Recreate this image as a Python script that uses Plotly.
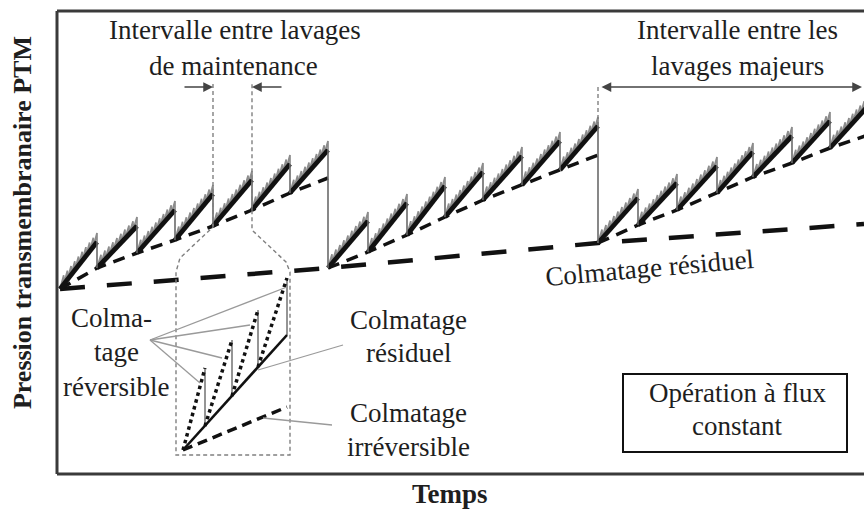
import plotly.graph_objects as go

# ---------------- data (time units, PTM units) ----------------
# major cycle 1 : maintenance-cleaning times, base (residual) PTM, peak PTM
c1_t = [3, 40, 80, 118, 156, 195, 233, 271]
c1_base = [185, 206, 221, 234, 248, 264, 281, 296]
c1_peak = [232, 248, 264, 280, 294, 310, 324]
# major cycle 2
c2_t = [271, 311, 350, 388, 426, 465, 503, 541]
c2_base = [206, 222, 239, 257, 274, 289, 304, 319]
c2_peak = [253, 271, 288, 302, 318, 333, 348]
# major cycle 3
c3_t = [541, 581, 620, 660, 696, 735, 773, 811]
c3_base = [231, 249, 264, 281, 297, 311, 326, 339]
c3_peak = [276, 291, 308, 322, 338, 353, 368]
# irreversible fouling (after major cleanings)
irr_t = [3, 271, 541, 807]
irr_ptm = [185, 206, 231, 250]

# zoomed inset
inset_t = [126, 148, 175, 201, 230]
inset_peak = [106, 134, 164, 196]
inset_resid = [24, 48, 78, 107, 139]
inset_irr_t = [126, 230]
inset_irr = [24, 67]

BACKWASH_TEETH = 10
TOOTH_H = 9

cycles = [(c1_t, c1_base, c1_peak), (c2_t, c2_base, c2_peak), (c3_t, c3_base, c3_peak)]

rise_x, rise_y = [], []
drop_x, drop_y = [], []
res_x, res_y = [], []
teeth_x, teeth_y = [], []
for ci, (t, b, p) in enumerate(cycles):
    res_x += t + [None]
    res_y += b + [None]
    for i in range(len(p)):
        x0, y0, x1, y1 = t[i], b[i], t[i + 1], p[i]
        rise_x += [x0, x1, None]
        rise_y += [y0, y1, None]
        # small backwash teeth above the rising line
        for k in range(BACKWASH_TEETH):
            fa = k / BACKWASH_TEETH
            fb = (k + 1) / BACKWASH_TEETH
            xa = x0 + (x1 - x0) * fa
            ya = y0 + (y1 - y0) * fa
            xb = x0 + (x1 - x0) * fb
            yb = y0 + (y1 - y0) * fb
            teeth_x += [xa, xb, xb]
            teeth_y += [ya, yb + TOOTH_H, yb]
        teeth_x.append(None)
        teeth_y.append(None)
        if i < len(p) - 1:
            drop_x += [x1, x1, None]
            drop_y += [y1, b[i + 1], None]
        elif ci < len(cycles) - 1:
            nb = cycles[ci + 1][1][0]
            drop_x += [x1, x1, None]
            drop_y += [y1, nb, None]

fig = go.Figure()

LONG_DASH = "25px,22px"
MED_DASH = "12px,8px"

fig.add_trace(go.Scatter(x=irr_t, y=irr_ptm, mode="lines",
                         line=dict(color="#111", width=4.5, dash=LONG_DASH)))
fig.add_trace(go.Scatter(x=res_x, y=res_y, mode="lines",
                         line=dict(color="#111", width=3.5, dash=MED_DASH)))
fig.add_trace(go.Scatter(x=teeth_x, y=teeth_y, mode="lines",
                         line=dict(color="#8c8c8c", width=1.7)))
fig.add_trace(go.Scatter(x=rise_x, y=rise_y, mode="lines",
                         line=dict(color="#111", width=4.8)))
fig.add_trace(go.Scatter(x=drop_x, y=drop_y, mode="lines",
                         line=dict(color="#6a6a6a", width=1.6)))

# dashed vertical above the start of the last major interval
fig.add_trace(go.Scatter(x=[c2_t[-1], c2_t[-1]], y=[387, c2_peak[-1]], mode="lines",
                         line=dict(color="#777", width=1.3, dash="4px,3px")))

# dotted connector / inset frame
conn_x = [156, 156, 123, 119, 119, 233, 233, 229, 195, 195]
conn_y = [390, 247, 216, 202, 19, 19, 202, 212, 244, 390]
fig.add_trace(go.Scatter(x=conn_x, y=conn_y, mode="lines",
                         line=dict(color="#808080", width=1.4, dash="4px,3px")))

# inset curves
dot_x, dot_y, idrop_x, idrop_y = [], [], [], []
for i in range(len(inset_peak)):
    dot_x += [inset_t[i], inset_t[i + 1], None]
    dot_y += [inset_resid[i], inset_peak[i], None]
    idrop_x += [inset_t[i + 1], inset_t[i + 1], None]
    idrop_y += [inset_peak[i], inset_resid[i + 1], None]
fig.add_trace(go.Scatter(x=inset_irr_t, y=inset_irr, mode="lines",
                         line=dict(color="#111", width=3.5, dash="10px,6px")))
fig.add_trace(go.Scatter(x=idrop_x, y=idrop_y, mode="lines",
                         line=dict(color="#8a8a8a", width=1.8)))
fig.add_trace(go.Scatter(x=dot_x, y=dot_y, mode="lines",
                         line=dict(color="#111", width=3.5, dash="dot")))
fig.add_trace(go.Scatter(x=[inset_t[0], inset_t[-1]], y=[inset_resid[0], inset_resid[-1]],
                         mode="lines", line=dict(color="#111", width=2.6)))

# pointer lines
ptr = [((93, 134), (230, 187)), ((93, 134), (193, 149)), ((93, 134), (165, 116)),
       ((93, 134), (143, 91)), ((286, 129), (201, 104)), ((275, 49), (206, 56))]
px_, py_ = [], []
for (a, b) in ptr:
    px_ += [a[0], b[0], None]
    py_ += [a[1], b[1], None]
fig.add_trace(go.Scatter(x=px_, y=py_, mode="lines",
                         line=dict(color="#9a9a9a", width=1.3)))

FONT = "Liberation Serif"
FS = 27


def label(x, y, text, angle=0, size=FS, bold=False, ref="data"):
    kw = {}
    if ref == "paper":
        kw = dict(xref="paper", yref="paper")
    fig.add_annotation(x=x, y=y, text=("<b>%s</b>" % text) if bold else text,
                       showarrow=False, xanchor="center", yanchor="middle",
                       textangle=angle, font=dict(family=FONT, size=size, color="#1e1e1e"),
                       **kw)


label(178, 444, "Intervalle entre lavages")
label(176, 408, "de maintenance")
label(680, 444, "Intervalle entre les")
label(680, 408, "lavages majeurs")
label(592, 206, "Colmatage résiduel", angle=-5)
label(54, 156, "Colma-")
label(59, 122, "tage")
label(59, 87, "réversible")
label(351, 154, "Colmatage")
label(351, 121, "résiduel")
label(351, 61, "Colmatage")
label(351, 27, "irréversible")
label(680, 81, "Opération à flux")
label(680, 48, "constant")
# axis titles (outside the plotting area)
label(0.487, -0.043, "Temps", bold=True, size=27, ref="paper")
label(-0.0434, 0.544, "Pression transmembranaire PTM", angle=-90, bold=True, size=26,
      ref="paper")

# interval arrows
for (x, ax) in [(156, 126), (195, 226)]:
    fig.add_annotation(x=x, y=387, ax=ax, ay=387, axref="x", ayref="y", text="",
                       showarrow=True, arrowhead=2, arrowsize=1.3, arrowwidth=1.5,
                       arrowcolor="#444")
fig.add_annotation(x=805, y=387, ax=543, ay=387, axref="x", ayref="y", text="",
                   showarrow=True, arrowhead=2, arrowside="end+start", arrowsize=1.3,
                   arrowwidth=1.5, arrowcolor="#444")

# box and frame
fig.add_shape(type="rect", x0=566, x1=790, y0=22, y1=100, line=dict(color="#111", width=2))
for (x0, y0, x1, y1) in [(0, 0, 0, 1), (0, 1, 1, 1), (0, 0, 1, 0)]:
    fig.add_shape(type="line", xref="paper", yref="paper", x0=x0, y0=y0, x1=x1, y1=y1,
                  line=dict(color="#3a3a3a", width=3))

fig.update_layout(width=864, height=524, margin=dict(l=57, r=0, t=11, b=50),
                  plot_bgcolor="white", paper_bgcolor="white", showlegend=False,
                  xaxis=dict(range=[0, 807], visible=False, fixedrange=True),
                  yaxis=dict(range=[0, 463], visible=False, fixedrange=True))
fig.write_html("out.html", config={"displayModeBar": False},
               post_script="document.body.style.margin='0';document.body.style.overflow='hidden';")
